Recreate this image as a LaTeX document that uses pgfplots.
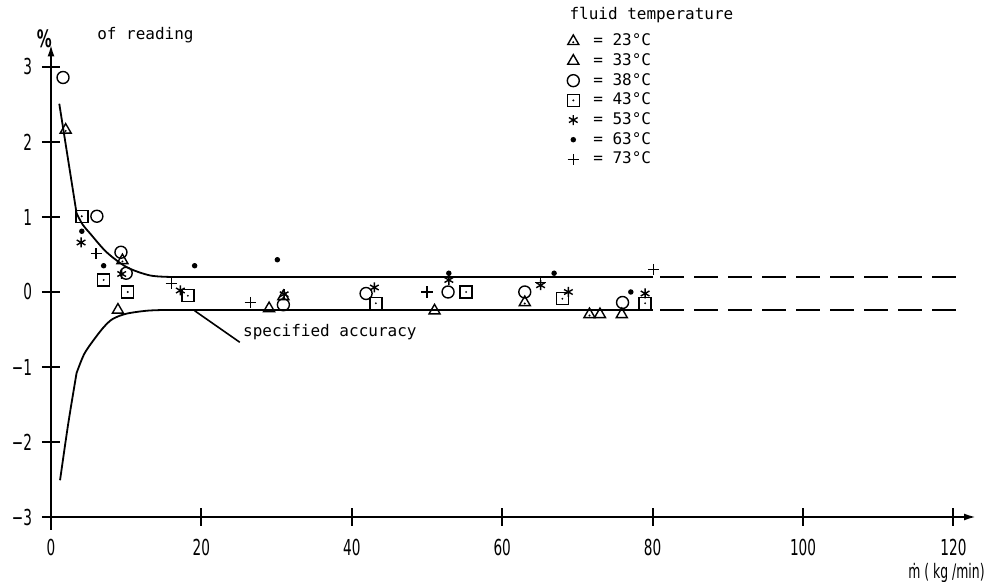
\documentclass[border=0pt]{standalone}
\usepackage{fontspec}
\setmainfont{DejaVu Sans Mono}
\newfontfamily\tickfont[FakeStretch=0.62]{DejaVu Sans}
\usepackage{pgfplots}
\pgfplotsset{compat=1.18}
\usetikzlibrary{arrows.meta}

\pgfdeclareplotmark{sqdot}{%
  \pgfpathrectangle{\pgfqpoint{-\pgfplotmarksize}{-\pgfplotmarksize}}{\pgfqpoint{2\pgfplotmarksize}{2\pgfplotmarksize}}%
  \pgfusepathqstroke
  \pgfpathcircle{\pgfpointorigin}{0.55pt}\pgfusepathqfill}
\pgfdeclareplotmark{tridot}{%
  \pgfpathmoveto{\pgfqpointpolar{90}{\pgfplotmarksize}}%
  \pgfpathlineto{\pgfqpointpolar{-30}{\pgfplotmarksize}}%
  \pgfpathlineto{\pgfqpointpolar{210}{\pgfplotmarksize}}%
  \pgfpathclose\pgfusepathqstroke
  \pgfpathcircle{\pgfqpoint{0pt}{-0.15\pgfplotmarksize}}{0.55pt}\pgfusepathqfill}

\begin{document}
\begin{tikzpicture}
\useasboundingbox (-25.5pt,-32.5pt) rectangle (467.5pt,258.5pt);
\begin{axis}[
  at={(0,0)}, anchor=south west,
  scale only axis, width=462.5pt, height=236.25pt,
  xmin=0, xmax=123, ymin=-3, ymax=3.3,
  axis lines=left,
  axis line style={line width=1pt, -{Latex[length=6pt,width=3.5pt]}},
  xtick={0,20,...,120}, xticklabels={0,20,40,60,80,100,120},
  ytick={-3,-2,...,3}, yticklabels={−3,−2,−1,0,1,2,3},
  tick align=center, major tick length=9pt,
  tick style={line width=1pt, black},
  ticklabel style={font=\tickfont\fontsize{11}{11}\selectfont},
  xticklabel style={yshift=-3pt},
  yticklabel style={xshift=-1.5pt},
  clip=false,
  every axis plot/.append style={black, line width=0.7pt},
  legend style={draw=none, fill=none, at={(axis cs:68.6,3.5)}, anchor=north west,
    font=\fontsize{8}{9}\selectfont, inner sep=0pt, row sep=-1.6pt,
    /tikz/every odd column/.append style={column sep=5pt}},
  legend cell align=left,
  legend image code/.code={\draw[#1] plot coordinates {(0pt,0pt)};},
]
% specified accuracy band
\addplot[line width=0.9pt, forget plot] coordinates {(1.1,2.51) (3.4,1.05)};
\addplot[line width=0.9pt, smooth, forget plot] coordinates {(3.4,1.05) (4.2,0.9) (5.2,0.78) (7.4,0.53) (10.1,0.33) (13.2,0.22) (16.2,0.2)};
\addplot[line width=0.9pt, forget plot] coordinates {(16.2,0.2) (80,0.2)};
\addplot[line width=0.9pt, dash pattern=on 12pt off 5pt, forget plot] coordinates {(81,0.2) (120.8,0.2)};
\addplot[line width=0.9pt, smooth, forget plot] coordinates {(1.2,-2.51) (2.3,-1.75) (3.4,-1.08)};
\addplot[line width=0.9pt, smooth, forget plot] coordinates {(3.4,-1.08) (4.4,-0.83) (5.6,-0.65) (7,-0.47) (8.2,-0.36) (10,-0.29) (12.7,-0.25) (15,-0.24)};
\addplot[line width=0.9pt, forget plot] coordinates {(15,-0.24) (80,-0.24)};
\addplot[line width=0.9pt, dash pattern=on 12pt off 5pt, forget plot] coordinates {(81,-0.24) (120.8,-0.24)};

% measured points
\addplot[only marks, mark=tridot, mark size=3.2pt] coordinates {(1.95,2.16) (9.5,0.42) (30.9,-0.06) (63.0,-0.14) (71.6,-0.3)};
\addlegendentry{= 23°C}
\addplot[only marks, mark=triangle, mark size=3.2pt] coordinates {(8.9,-0.24) (29.0,-0.22) (51.0,-0.25) (73.0,-0.3) (75.9,-0.3)};
\addlegendentry{= 33°C}
\addplot[only marks, mark=o, mark size=3pt] coordinates {(1.6,2.86) (6.1,1.01) (9.3,0.53) (10.0,0.25) (30.9,-0.17) (41.9,-0.02) (52.8,0.0) (63.0,0.0) (76.0,-0.14)};
\addlegendentry{= 38°C}
\addplot[only marks, mark=sqdot, mark size=3pt] coordinates {(4.1,1.01) (7.0,0.16) (10.2,0.0) (18.2,-0.05) (43.2,-0.15) (55.2,0.0) (68.0,-0.09) (79.0,-0.15)};
\addlegendentry{= 43°C}
\addplot[only marks, mark=asterisk, mark size=2.5pt] coordinates {(4.0,0.66) (9.4,0.24) (17.2,0.02) (31.0,-0.03) (43.0,0.06) (52.9,0.16) (65.1,0.09) (68.8,0.0) (79.0,-0.02)};
\addlegendentry{= 53°C}
\addplot[only marks, mark=*, mark size=1pt] coordinates {(4.1,0.81) (7.0,0.35) (19.1,0.35) (30.1,0.43) (52.9,0.25) (66.9,0.25) (77.1,0.0)};
\addlegendentry{= 63°C}
\addplot[only marks, mark=+, mark size=2.8pt] coordinates {(6.0,0.51) (16.0,0.11) (26.5,-0.14) (50.0,0.0) (65.1,0.13) (80.1,0.3)};
\addlegendentry{= 73°C}

% annotations
\draw[line width=1pt] (axis cs:0,-3) -- (axis cs:0,-3.17);
\draw[line width=0.8pt] (axis cs:19.1,-0.25) -- (axis cs:25.1,-0.67);
\node[anchor=west, font=\fontsize{8}{9}\selectfont, inner sep=0pt] at (axis cs:25.5,-0.53) {specified accuracy};
\node[anchor=west, font=\fontsize{8}{9}\selectfont, inner sep=0pt] at (axis cs:68.9,3.69) {fluid temperature};
\node[anchor=west, font=\fontsize{8}{9}\selectfont, inner sep=0pt] at (axis cs:6.1,3.42) {of reading};
\node[font=\tickfont\fontsize{12}{12}\selectfont\bfseries, inner sep=0pt] at (axis cs:-0.9,3.37) {\%};
\node[anchor=east, font=\tickfont\fontsize{10}{10}\selectfont, inner sep=0pt] at (axis cs:124.2,-3.74) {ṁ ( kg /min)};
\end{axis}
\end{tikzpicture}
\end{document}
